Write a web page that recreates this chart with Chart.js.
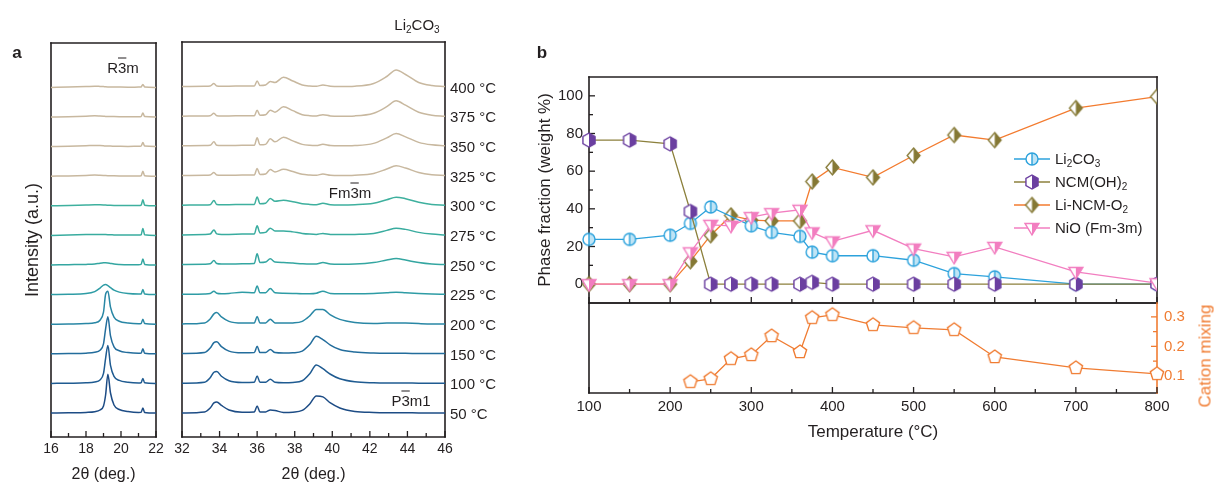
<!DOCTYPE html>
<html>
<head>
<meta charset="utf-8">
<script src="https://cdn.jsdelivr.net/npm/chart.js@4.4.0/dist/chart.umd.min.js"></script>
<style>
  body { margin: 0; width: 1214px; height: 484px; position: relative; overflow: hidden; background: #fff;
         font-family: "Liberation Sans", Arial, Helvetica, sans-serif; color: #231f20; }
  canvas { position: absolute; }
  .t { position: absolute; white-space: nowrap; line-height: 1; font-size: 15px; transform: translate(-50%, -50%); }
  .ov { text-decoration: overline; }
  .panel { font-weight: bold; font-size: 17px; }
  #legend { position: absolute; left: 1013px; top: 147px; font-size: 15px; }
  #legend div { height: 23px; display: flex; align-items: center; white-space: nowrap; }
  #legend canvas { position: static; margin-right: 4px; }
  sub { font-size: 10px; vertical-align: -3px; line-height: 0; }
</style>
</head>
<body>
<canvas id="xrdLeft" width="170" height="484" style="left:0;top:0"></canvas>
<canvas id="xrdRight" width="340" height="484" style="left:170px;top:0"></canvas>
<canvas id="phase" width="694" height="306" style="left:520px;top:0"></canvas>
<canvas id="mixing" width="694" height="184" style="left:520px;top:300px"></canvas>

<div class="t panel" style="left:17px;top:52px">a</div>
<div class="t panel" style="left:542px;top:52px">b</div>
<div class="t" style="left:123px;top:67px">R<span class="ov">3</span>m</div>
<div class="t" style="left:417px;top:24px">Li<sub>2</sub>CO<sub>3</sub></div>
<div class="t" style="left:350px;top:192px">Fm<span class="ov">3</span>m</div>
<div class="t" style="left:411px;top:400px">P<span class="ov">3</span>m1</div>
<div class="t" style="left:1205px;top:356px;font-size:17px;color:#f07c32;transform:translate(-50%,-50%) rotate(-90deg)">Cation mixing</div>
<div id="legend"></div>

<script>
Chart.defaults.font.family = '"Liberation Sans", Arial, Helvetica, sans-serif';
Chart.defaults.color = '#231f20';
Chart.defaults.animation = false;
Chart.defaults.layout.autoPadding = false;

// ---- panel a: in-situ XRD patterns, one row per temperature (bottom to top) ----
const xrdTemps = [50, 100, 150, 200, 225, 250, 275, 300, 325, 350, 375, 400];
const leftTheta = [16.0, 17.0, 18.0, 18.5, 18.8, 19.0, 19.12, 19.25, 19.4, 19.6, 19.9, 20.4, 21.0, 21.15, 21.25, 21.35, 22.0];
const leftIntensity = [
  [0, 0.2, 0.6, 1.3, 3, 7, 18, 38.7, 20, 8, 3.5, 1.5, 0.6, 0.7, 5, 0.6, 0],     // 50
  [0, 0.2, 0.6, 1.5, 3.5, 10, 25, 38, 18, 7, 3, 1.2, 0.5, 0.7, 5, 0.6, 0],      // 100
  [0, 0.2, 0.6, 1.5, 3.5, 10, 25, 37, 18, 7, 3, 1.2, 0.5, 0.7, 5, 0.6, 0],      // 150
  [0, 0.2, 0.6, 1.5, 4, 12, 30, 33, 17, 7, 3, 1.2, 0.5, 0.7, 5, 0.6, 0],        // 200
  [0, 0.3, 1, 3, 6.5, 9.5, 10, 9, 7, 4.5, 2.5, 1, 0.5, 0.7, 5, 0.6, 0],         // 225
  [0, 0.3, 0.6, 1, 1.8, 2.2, 2.3, 2.1, 1.6, 1, 0.6, 0.3, 0.3, 0.6, 6, 0.6, 0],  // 250
  [0, 0.4, 0.8, 1, 1, 0.9, 0.8, 0.7, 0.6, 0.5, 0.3, 0.3, 0.4, 0.6, 7, 0.6, 0],  // 275
  [0, 0.3, 0.8, 1, 1, 0.9, 0.7, 0.6, 0.5, 0.4, 0.3, 0.3, 0.4, 0.6, 6, 0.6, 0],  // 300
  [0, 0.3, 0.8, 1.2, 1, 0.8, 0.6, 0.5, 0.5, 0.4, 0.3, 0.2, 0.3, 0.5, 5, 0.5, 0],// 325
  [0, 0.3, 0.8, 1.2, 1, 0.8, 0.6, 0.5, 0.5, 0.4, 0.3, 0.2, 0.3, 0.5, 4, 0.5, 0],// 350
  [0, 0.3, 0.8, 1.2, 1, 0.8, 0.6, 0.5, 0.5, 0.4, 0.3, 0.2, 0.3, 0.5, 4, 0.5, 0],// 375
  [0, 0.3, 0.8, 1.2, 1, 0.8, 0.6, 0.5, 0.5, 0.4, 0.3, 0.2, 0.3, 0.5, 3, 0.5, 0] // 400
];
const rightTheta = [32.0, 33.2, 33.5, 33.7, 33.85, 34.1, 34.5, 35.2, 35.85, 36.0, 36.15, 36.45, 36.7, 36.95, 37.4,
                    37.9, 38.4, 38.8, 39.15, 39.5, 39.9, 40.4, 41.2, 42.2, 42.9, 43.4, 43.9, 44.6, 45.3, 46.0];
const rightIntensity = [
  [0, 1, 5, 10, 11, 7.5, 3, 0.8, 1, 7, 1, 1, 3, 2.5, 0.5, 0.8, 2.5, 9, 17, 16, 10, 5, 1.5, 0.5, 0.3, 0.3, 0.3, 0, 0, 0],          // 50
  [0, 1, 5.5, 11, 11.7, 7, 2.5, 0.8, 1, 7.3, 1, 1, 4, 1, 0.5, 0.8, 2.5, 9.5, 18.3, 14.5, 9, 4.5, 1.5, 0.5, 0.3, 0.3, 0.3, 0, 0, 0], // 100
  [0, 1, 5.5, 11, 11.7, 7, 2.5, 0.8, 1, 7.3, 1, 1, 4, 1, 0.5, 0.8, 2.5, 9, 17.3, 14, 8.5, 4, 1.5, 0.5, 0.3, 0.3, 0.3, 0, 0, 0],    // 150
  [0, 1, 5, 10, 11.3, 7, 2.5, 0.8, 1, 7.3, 1, 1, 4.7, 1, 0.8, 1, 2.5, 8, 14.5, 14.5, 9, 4.5, 1.5, 0.5, 0.8, 1, 0.8, 0.3, 0, 0],    // 200
  [0, 0.3, 0.8, 3, 1, 0.5, 0.8, 2, 1.5, 8.3, 1.5, 1.5, 5.7, 1.5, 1, 0.8, 0.5, 0.5, 1, 3, 0.8, 0.5, 0.5, 0.8, 1.5, 2, 1.5, 0.8, 0.3, 0], // 225
  [0, 0.3, 0.8, 4, 1, 0.5, 0.5, 0.8, 1, 10.7, 2, 2.5, 5.7, 2.5, 2, 1.5, 0.8, 0.5, 0.5, 2, 0.5, 0.3, 0.5, 2, 4.5, 6, 4.5, 2, 0.5, 0],  // 250
  [0, 0.3, 0.8, 5, 1, 0.5, 0.5, 0.8, 1, 9, 2, 2.5, 6.7, 4, 4, 3, 1.5, 0.8, 0.5, 1.5, 0.5, 0.3, 0.5, 1.5, 4.5, 6.7, 5.5, 2.5, 0.8, 0],  // 275
  [0, 0.3, 0.5, 4.7, 0.8, 0.5, 0.5, 0.8, 0.8, 8.3, 1.5, 2, 6.7, 4, 5, 3.5, 1.5, 0.8, 0.5, 2, 0.5, 0.2, 0.5, 2, 5.5, 8, 6.5, 3, 0.8, 0], // 300
  [0, 0.3, 0.5, 3, 0.5, 0.3, 0.3, 0.5, 0.5, 7, 1, 1.5, 6, 3.5, 6.3, 4, 1.2, 0.5, 0.3, 1.5, 0.3, 0, 0.3, 2, 6.5, 9.7, 7.5, 3, 0.8, 0],  // 325
  [0, 0.3, 0.5, 4, 0.5, 0.3, 0.3, 0.5, 0.5, 8, 1, 1.5, 7, 4, 8.7, 5, 1.5, 0.5, 0.3, 1.5, 0.3, 0, 0.3, 2.5, 8, 12.3, 9, 3.5, 1, 0],     // 350
  [0, 0.3, 0.5, 3, 0.5, 0.3, 0.3, 0.5, 0.5, 6, 1, 1.5, 6, 4, 9.3, 5.5, 1.5, 0.5, 0.3, 1.5, 0.3, 0, 0.3, 3, 9.5, 15.3, 11, 4, 1, 0],    // 375
  [0, 0.3, 0.5, 3, 0.5, 0.3, 0.3, 0.5, 0.5, 5.5, 1, 1.5, 5, 4, 9.3, 5.5, 1.5, 0.5, 0.3, 1.5, 0.3, 0, 0.3, 3, 10, 16.5, 12, 4, 1, 0]   // 400
];
const leftThetaTicks = [16, 18, 20, 22];
const rightThetaTicks = [32, 34, 36, 38, 40, 42, 44, 46];

// ---- panel b: phase fractions and cation mixing vs. temperature ----
const temps = [100, 150, 200, 225, 250, 275, 300, 325, 360, 375, 400, 450, 500, 550, 600, 700, 800];
const li2co3 = [23.8, 23.8, 26, 32.3, 41, null, 31, 27.5, 25.4, 17, 15.1, 15.1, 12.7, 5.6, 3.9, 0, 0];
const ncmOH = [76.5, 76.5, 74.5, 38.6, 0, 0, 0, 0, 0, 1, 0, 0, 0, 0, 0, 0, 0];
const liNcmO2 = [0, 0, 0, 12.2, 26, 36.5, 34, 33.6, 33.6, 54.5, 62, 56.7, 68.3, 79.2, 76.5, 93.5, 99.6];
const nio = [0, 0, 0, 16.9, 31.5, 31, 35.6, 37.7, 39.5, 27.5, 22.7, 28.6, 18.9, 14.5, 19.8, 6.5, 0.5];
const cationMixing = [null, null, null, 0.08, 0.09, 0.158, 0.171, 0.235, 0.181, 0.297, 0.307, 0.273, 0.263, 0.256, 0.164, 0.127, 0.107];
const tempTicks = [100, 200, 300, 400, 500, 600, 700, 800];
const phaseTicks = [0, 20, 40, 60, 80, 100];
const mixingTicks = [0.1, 0.2, 0.3];

// styling
const ink = '#231f20';
const orange = '#f07c32';
const xrdColors = ['#1d4c85', '#1f5b91', '#236d9c', '#2987a5', '#2e9ca5', '#34a6a1', '#39ac9f', '#3eb09e',
                   '#c8b89f', '#c8b89f', '#c8b89f', '#c8b89f'];
const stackBase = 24, stackStep = 29.6;

const mids = arr => arr.slice(1).map((v, i) => (v + arr[i]) / 2);

// fixed scale box sizes, without the label overhang chart.js would reserve
const fixHeight = h => s => { s.height = h; s.paddingLeft = s.paddingRight = s.paddingTop = s.paddingBottom = 0; };
const fixWidth = w => s => { s.width = w; s.paddingLeft = s.paddingRight = s.paddingTop = s.paddingBottom = 0; };

// box frame with inward tick marks, drawn under the data
const framePlugin = {
  id: 'frame',
  beforeDatasetsDraw(chart, args, opts) {
    const {ctx, chartArea: a} = chart;
    const seg = (x1, y1, x2, y2, c) => {
      ctx.strokeStyle = c; ctx.beginPath(); ctx.moveTo(x1, y1); ctx.lineTo(x2, y2); ctx.stroke();
    };
    ctx.save();
    ctx.lineWidth = 1.6;
    ctx.lineCap = 'square';
    const s = opts.sides || {};
    if (s.top) seg(a.left, a.top, a.right, a.top, s.top);
    if (s.bottom) seg(a.left, a.bottom, a.right, a.bottom, s.bottom);
    if (s.left) seg(a.left, a.top, a.left, a.bottom, s.left);
    if (s.right) seg(a.right, a.top, a.right, a.bottom, s.right);
    ctx.lineCap = 'butt';
    ctx.lineWidth = 1.3;
    (opts.marks || []).forEach(m => {
      const sc = chart.scales[m.axis];
      const c = m.color || ink;
      m.values.forEach(v => {
        const p = sc.getPixelForValue(v);
        if (m.edge === 'bottom') seg(p, a.bottom, p, a.bottom - m.len, c);
        else if (m.edge === 'left') seg(a.left, p, a.left + m.len, p, c);
        else seg(a.right, p, a.right - m.len, p, c);
      });
    });
    ctx.restore();
  }
};
const allSides = {top: ink, right: ink, bottom: ink, left: ink};

function xrdSets(grid, rows) {
  return rows.map((row, i) => ({
    data: grid.map((x, k) => ({x, y: stackBase + i * stackStep + row[k]})),
    borderColor: xrdColors[i],
    borderWidth: 1.5,
    pointRadius: 0,
    cubicInterpolationMode: 'monotone'
  }));
}

const thetaAxis = (lo, hi) => ({
  type: 'linear', min: lo, max: hi,
  grid: {display: false, drawTicks: false}, border: {display: false},
  ticks: {stepSize: 2, font: {size: 14}, padding: 4, maxRotation: 0},
  title: {display: true, text: '2θ (deg.)', font: {size: 16}, padding: {top: 0, bottom: 0}},
  afterFit: fixHeight(47)
});

new Chart(document.getElementById('xrdLeft'), {
  type: 'line',
  data: {datasets: xrdSets(leftTheta, leftIntensity)},
  options: {
    responsive: false,
    layout: {padding: {left: 0, top: 43, right: 14, bottom: 0}},
    plugins: {
      legend: {display: false}, tooltip: {enabled: false},
      frame: {sides: allSides, marks: [
        {axis: 'x', edge: 'bottom', values: leftThetaTicks, len: 6},
        {axis: 'x', edge: 'bottom', values: mids(leftThetaTicks), len: 4}
      ]}
    },
    scales: {
      x: thetaAxis(16, 22),
      y: {
        min: 0, max: 394,
        grid: {display: false, drawTicks: false}, border: {display: false},
        ticks: {display: false},
        title: {display: true, text: 'Intensity (a.u.)', font: {size: 18}, padding: {top: 22, bottom: 0}},
        afterFit: fixWidth(51)
      }
    }
  },
  plugins: [framePlugin]
});

new Chart(document.getElementById('xrdRight'), {
  type: 'line',
  data: {datasets: xrdSets(rightTheta, rightIntensity)},
  options: {
    responsive: false,
    layout: {padding: {left: 12, top: 42, right: 0, bottom: 0}},
    plugins: {
      legend: {display: false}, tooltip: {enabled: false},
      frame: {sides: allSides, marks: [
        {axis: 'x', edge: 'bottom', values: rightThetaTicks, len: 6},
        {axis: 'x', edge: 'bottom', values: mids(rightThetaTicks), len: 4}
      ]}
    },
    scales: {
      x: thetaAxis(32, 46),
      y: {
        position: 'right', min: 0, max: 394,
        grid: {display: false, drawTicks: false}, border: {display: false},
        afterBuildTicks: s => { s.ticks = xrdTemps.map((t, i) => ({value: stackBase + i * stackStep})); },
        ticks: {autoSkip: false, font: {size: 15}, padding: 5, labelOffset: 2,
                callback: (v, i) => xrdTemps[i] + ' °C'},
        afterFit: fixWidth(65)
      }
    }
  },
  plugins: [framePlugin]
});

// half-filled marker glyphs
function shapePath(g, shape, cx, cy, r) {
  g.beginPath();
  if (shape === 'circle') { g.arc(cx, cy, r, 0, Math.PI * 2); return; }
  let pts;
  if (shape === 'diamond') pts = [[0, -r], [r * 0.85, 0], [0, r], [-r * 0.85, 0]];
  else if (shape === 'triangleDown') pts = [[-r, -r * 0.65], [r, -r * 0.65], [0, r]];
  else {
    const n = shape === 'hexagon' ? 6 : 5;
    pts = [];
    for (let k = 0; k < n; k++) {
      const t = -Math.PI / 2 + k * 2 * Math.PI / n;
      pts.push([r * Math.cos(t), r * Math.sin(t)]);
    }
  }
  pts.forEach(([x, y], k) => k ? g.lineTo(cx + x, cy + y) : g.moveTo(cx + x, cy + y));
  g.closePath();
}
function marker(shape, edge, fill, r, divider) {
  const s = Math.ceil(r * 2 + 4);
  const c = document.createElement('canvas');
  c.width = c.height = s;
  const g = c.getContext('2d');
  const cx = s / 2, cy = s / 2;
  shapePath(g, shape, cx, cy, r);
  g.fillStyle = '#fff'; g.fill();
  if (fill) {
    g.save(); g.beginPath(); g.rect(cx, 0, s, s); g.clip();
    shapePath(g, shape, cx, cy, r);
    g.fillStyle = fill; g.fill();
    g.restore();
  }
  shapePath(g, shape, cx, cy, r);
  g.lineWidth = 1.4; g.strokeStyle = edge; g.stroke();
  if (divider) {
    g.beginPath(); g.moveTo(cx, cy - r); g.lineTo(cx, cy + r); g.stroke();
  }
  return c;
}

const series = [
  {label: 'Li<sub>2</sub>CO<sub>3</sub>', data: li2co3, line: '#2ca2dc', pt: marker('circle', '#2ca2dc', '#bfe4f5', 6, true), order: 2},
  {label: 'NCM(OH)<sub>2</sub>', data: ncmOH, line: '#8c803c', pt: marker('hexagon', '#6b3fa0', '#6b3fa0', 7), order: 1},
  {label: 'Li-NCM-O<sub>2</sub>', data: liNcmO2, line: '#f37b2f', pt: marker('diamond', '#857935', '#857935', 7.5), order: 3},
  {label: 'NiO (Fm-3m)', data: nio, line: '#f27ec0', pt: marker('triangleDown', '#f27ec0', '#f27ec0', 7), order: 0}
];

new Chart(document.getElementById('phase'), {
  type: 'line',
  data: {
    labels: temps,
    datasets: series.map(s => ({
      data: temps.map((t, i) => ({x: t, y: s.data[i]})),
      borderColor: s.line, borderWidth: 1.3,
      pointStyle: s.pt, pointRadius: 6,
      spanGaps: true, order: s.order, tension: 0,
      clip: {left: false, top: false, right: 0, bottom: false}
    }))
  },
  options: {
    responsive: false,
    layout: {padding: {left: 0, top: 77, right: 57, bottom: 3}},
    plugins: {
      legend: {display: false}, tooltip: {enabled: false},
      frame: {sides: allSides, marks: [
        {axis: 'x', edge: 'bottom', values: tempTicks, len: 6},
        {axis: 'x', edge: 'bottom', values: mids(tempTicks), len: 4},
        {axis: 'y', edge: 'left', values: phaseTicks, len: 6},
        {axis: 'y', edge: 'left', values: mids(phaseTicks), len: 4}
      ]}
    },
    scales: {
      x: {type: 'linear', min: 100, max: 800, display: false},
      y: {
        min: -10, max: 110,
        grid: {display: false, drawTicks: false}, border: {display: false},
        afterBuildTicks: s => { s.ticks = phaseTicks.map(v => ({value: v})); },
        ticks: {font: {size: 15}, padding: 6},
        title: {display: true, text: 'Phase fraction (weight %)', font: {size: 17}, padding: {top: 15, bottom: 0}},
        afterFit: fixWidth(69)
      }
    }
  },
  plugins: [framePlugin]
});

const pentagon = marker('pentagon', orange, null, 7);
new Chart(document.getElementById('mixing'), {
  type: 'line',
  data: {
    datasets: [{
      data: temps.map((t, i) => ({x: t, y: cationMixing[i]})),
      borderColor: orange, borderWidth: 1.3,
      pointStyle: pentagon, pointRadius: 6,
      spanGaps: false, clip: false
    }]
  },
  options: {
    responsive: false,
    layout: {padding: {left: 69, top: 3, right: 0, bottom: 0}},
    plugins: {
      legend: {display: false}, tooltip: {enabled: false},
      frame: {sides: {top: ink, left: ink, bottom: ink, right: orange}, marks: [
        {axis: 'x', edge: 'bottom', values: tempTicks, len: 6},
        {axis: 'x', edge: 'bottom', values: mids(tempTicks), len: 4},
        {axis: 'y', edge: 'right', values: mixingTicks, len: 6, color: orange},
        {axis: 'y', edge: 'right', values: mids(mixingTicks), len: 4, color: orange}
      ]}
    },
    scales: {
      x: {
        type: 'linear', min: 100, max: 800,
        grid: {display: false, drawTicks: false}, border: {display: false},
        ticks: {stepSize: 100, font: {size: 15}, padding: 5, maxRotation: 0},
        title: {display: true, text: 'Temperature (°C)', font: {size: 17}, padding: {top: 0, bottom: 41}},
        afterFit: fixHeight(91)
      },
      y: {
        position: 'right', min: 0.042, max: 0.347,
        grid: {display: false, drawTicks: false}, border: {display: false},
        afterBuildTicks: s => { s.ticks = mixingTicks.map(v => ({value: v})); },
        ticks: {font: {size: 15}, padding: 7, color: orange, callback: v => v.toFixed(1)},
        afterFit: fixWidth(57)
      }
    }
  },
  plugins: [framePlugin]
});

// legend rows with line + marker icons
const legend = document.getElementById('legend');
series.forEach(s => {
  const row = document.createElement('div');
  const icon = document.createElement('canvas');
  icon.width = 38; icon.height = 20;
  const g = icon.getContext('2d');
  g.strokeStyle = s.line; g.lineWidth = 1.3;
  g.beginPath(); g.moveTo(1, 10); g.lineTo(37, 10); g.stroke();
  g.drawImage(s.pt, 19 - s.pt.width / 2, 10 - s.pt.height / 2);
  const txt = document.createElement('span');
  txt.innerHTML = s.label;
  row.appendChild(icon); row.appendChild(txt);
  legend.appendChild(row);
});
</script>
</body>
</html>
